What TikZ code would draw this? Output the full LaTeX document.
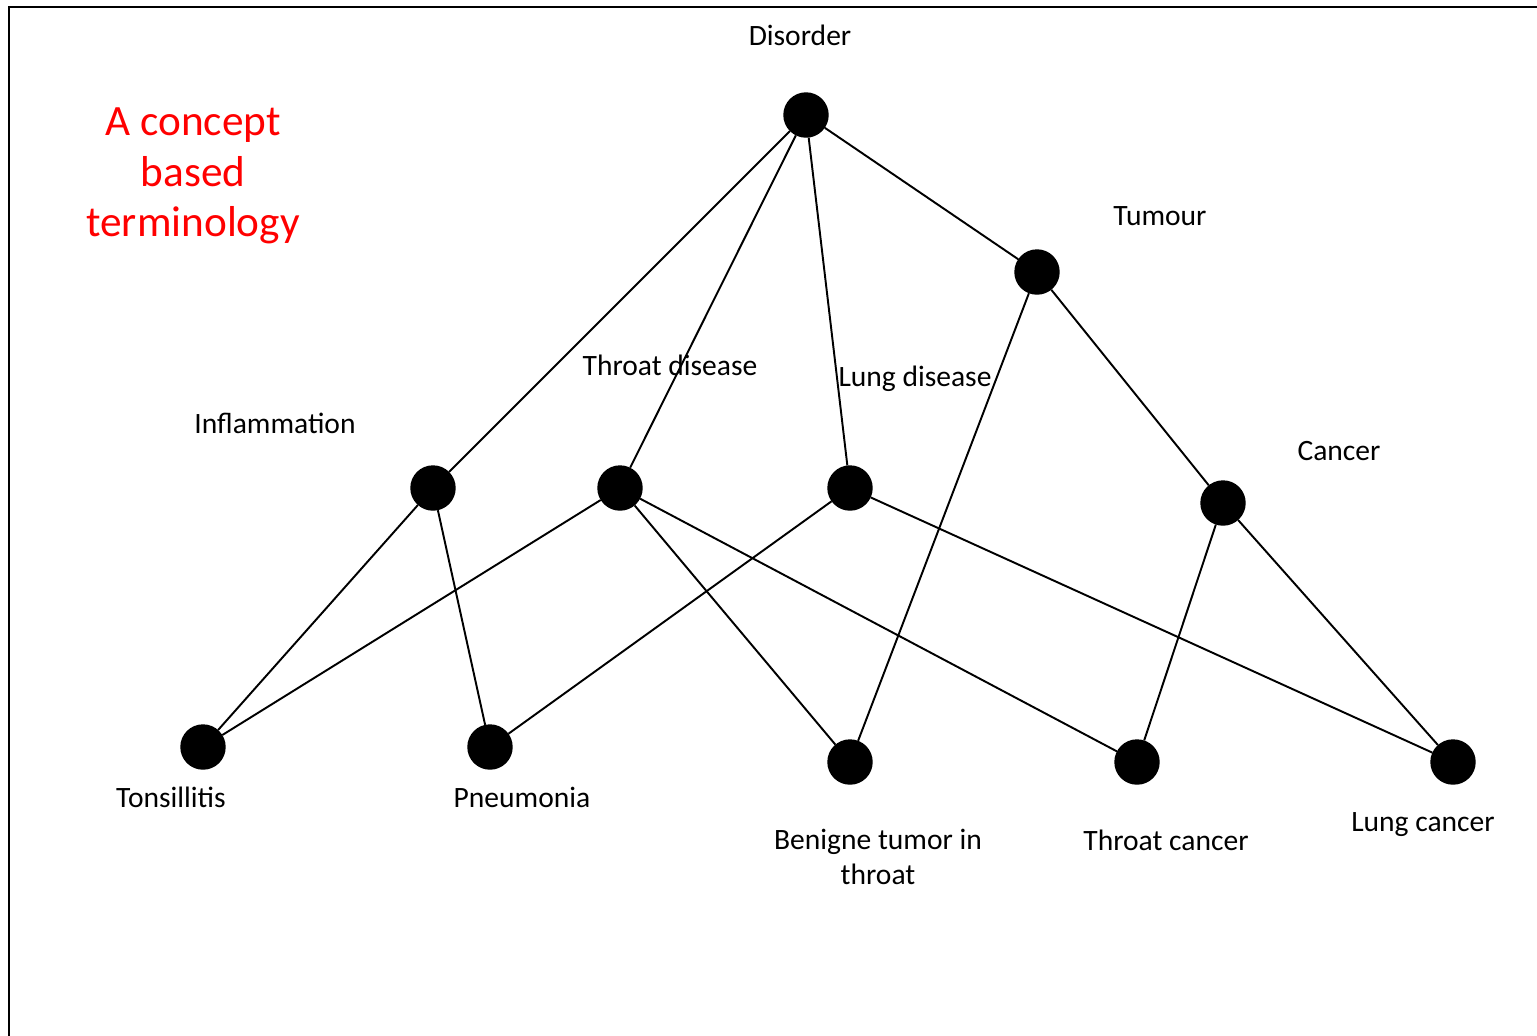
\documentclass[tikz,border=0pt]{standalone}
\usepackage{fontspec}
\setmainfont{Carlito}
\usepackage{xcolor}
\usetikzlibrary{positioning}
\tikzset{
  concept/.style = {circle, fill=black, draw=black, inner sep=0pt,
                    minimum size=4.4mm},
  term/.style    = {inner sep=0pt, align=center,
                    font=\fontsize{8.4}{10}\selectfont},
  title/.style   = {inner sep=0pt, align=center, text=red,
                    font=\fontsize{12.3}{14.3}\selectfont},
  isa/.style     = {line width=0.55pt},
}

\begin{document}
\begin{tikzpicture}[x=0.01cm, y=-0.01cm]
  \useasboundingbox (0,0) rectangle (1537,1035);
  \clip (0,0) rectangle (1537,1035);
  \draw[line width=0.6pt] (9,7) rectangle (1560,1060);

  \node[title] (heading) at (193,176) {A concept\\based\\terminology};

  % concepts
  \node[concept] (disorder)  at (806,115) {};
  \node[concept] (tumour)    at (1037,272) {};
  \node[concept] (inflam)    at (433,488) {};
  \node[concept] (throatdis) at (620,488) {};
  \node[concept] (lungdis)   at (850,488) {};
  \node[concept] (cancer)    at (1223,503) {};
  \node[concept] (tonsil)    at (203,747) {};
  \node[concept] (pneumo)    at (490,747) {};
  \node[concept] (benign)    at (850,762) {};
  \node[concept] (throatca)  at (1137,762) {};
  \node[concept] (lungca)    at (1453,762) {};

  % names
  \node[term] (disorder-l)  at (800,35)  {Disorder};
  \node[term] (tumour-l)    at (1160,216) {Tumour};
  \node[term] (inflam-l)    at (275,423) {Inflammation};
  \node[term] (throatdis-l) at (670,365) {Throat disease};
  \node[term] (lungdis-l)   at (915,379) {Lung disease};
  \node[term] (cancer-l)    at (1339,451) {Cancer};
  \node[term] (tonsil-l)    at (171,797) {Tonsillitis};
  \node[term] (pneumo-l)    at (522,797) {Pneumonia};
  \node[term] (benign-l)    at (878,857) {Benigne tumor in\\throat};
  \node[term] (throatca-l)  at (1166,840) {Throat cancer};
  \node[term] (lungca-l)    at (1423,825) {Lung cancer};

  % is-a links
  \draw[isa] (disorder) -- (inflam);
  \draw[isa] (disorder) -- (throatdis);
  \draw[isa] (disorder) -- (lungdis);
  \draw[isa] (disorder) -- (tumour);
  \draw[isa] (tumour) -- (benign);
  \draw[isa] (tumour) -- (cancer);
  \draw[isa] (inflam) -- (tonsil);
  \draw[isa] (inflam) -- (pneumo);
  \draw[isa] (throatdis) -- (tonsil);
  \draw[isa] (throatdis) -- (benign);
  \draw[isa] (throatdis) -- (throatca);
  \draw[isa] (lungdis) -- (pneumo);
  \draw[isa] (lungdis) -- (lungca);
  \draw[isa] (cancer) -- (throatca);
  \draw[isa] (cancer) -- (lungca);
\end{tikzpicture}
\end{document}
